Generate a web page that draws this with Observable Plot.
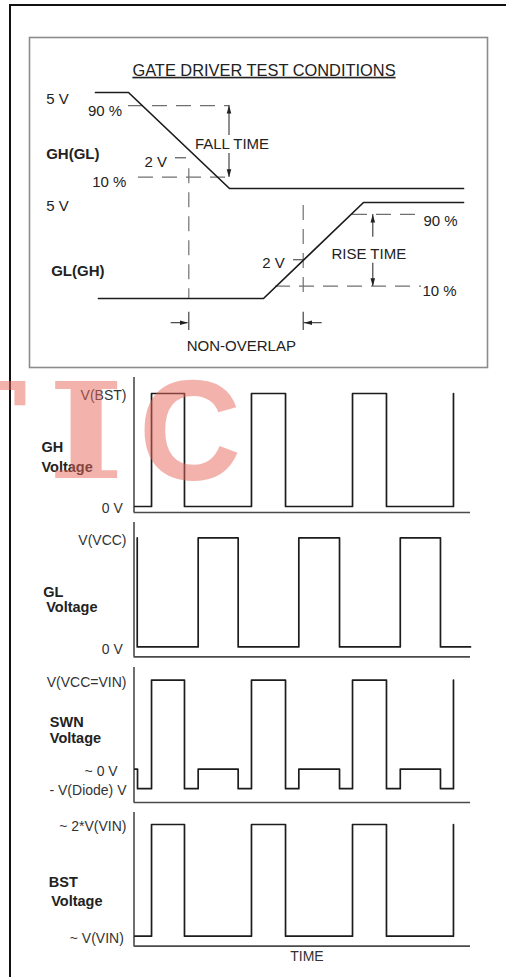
<!DOCTYPE html>
<html>
<head>
<meta charset="utf-8">
<script src="https://cdn.jsdelivr.net/npm/d3@7"></script>
<script src="https://cdn.jsdelivr.net/npm/@observablehq/plot@0.6"></script>
<style>
  html, body { margin: 0; padding: 0; background: #fff; }
  #page { position: relative; width: 506px; height: 977px; overflow: hidden; }
  #frame { position: absolute; left: 9px; top: 4px; width: 497px; height: 973px;
           border-left: 2px solid #111; border-top: 2px solid #111; box-sizing: border-box; }
</style>
</head>
<body>
<div id="page"><div id="frame"></div></div>
<script>
// ================= DATA =================
// --- Upper box: gate driver test conditions (time in arbitrary units, level in volts) ---
const titleText = "GATE DRIVER TEST CONDITIONS";
const GL_LANE = -5.73;                 // vertical lane offset of the GL(GH) trace
const ghTime  = [6.6, 9.9, 20.0, 43.4];
const ghLevel = [5, 5, 0, 0];
const glTime  = [6.9, 23.4, 33.4, 43.4];
const glLevel = [0, 0, 5, 5];

// dashed 90 % / 10 % guides
const guideLevel = [4.32, 0.59, -1.35, -5.09];
const guideFrom  = [9.9, 10.9, 32.3, 24.6];
const guideTo    = [20.0, 20.0, 39.2, 39.2];
// dashed verticals through the 2 V crossings
const crossTime  = [15.93, 27.37];
const crossFrom  = [1.03, -0.885];
const crossTo    = [-5.73, -5.73];
// 2 V tick marks
const tickLevel  = [1.6, -3.71];
const tickFrom   = [14.6, 26.4];
const tickTo     = [15.7, 27.4];
// fall / rise time arrows
const arrowTime  = [19.95, 19.95, 34.33, 34.33];
const arrowFrom  = [2.76, 1.82, -2.54, -3.89];
const arrowTip   = [4.32, 0.59, -1.35, -5.09];
// non-overlap marker
const nonOverlapLevel = -6.99;
const nonOverlapBar   = [-6.44, -7.40];
const nonOverlapFrom  = [14.17, 29.27];
const nonOverlapTip   = [15.85, 27.45];

// labels of the upper box
const startLabelText  = ["5 V", "2 V", "10 %", "5 V", "2 V", "90 %", "10 %"];
const startLabelTime  = [1.67, 11.5, 6.27, 1.67, 23.27, 39.4, 39.3];
const startLabelLevel = [4.67, 1.354, 0.31, -0.94, -3.906, -1.693, -5.365];
const endLabelText    = ["90 %"];
const endLabelTime    = [9.27];
const endLabelLevel   = [4.04];
const midLabelText    = ["FALL TIME", "RISE TIME", "NON-OVERLAP"];
const midLabelTime    = [20.25, 33.93, 21.18];
const midLabelLevel   = [2.29, -3.427, -8.229];
const boldLabelText   = ["GH(GL)", "GL(GH)"];
const boldLabelTime   = [1.67, 2.17];
const boldLabelLevel  = [1.80, -4.323];
const titleTime = 23.45, titleLevel = 6.146;

// --- Lower timing diagrams (time in arbitrary units, normalised level) ---
const timeLabel = "TIME";
const ghVTimes  = [0.08, 1.74, 5.01, 11.66, 15.04, 21.69, 25.06, 31.71];
const ghVLevels = [0, 1, 0, 1, 0, 1, 0, 1];
const glVTimes  = [0.32, 0.32, 6.37, 10.34, 16.36, 20.40, 26.43, 30.42, 33.4];
const glVLevels = [1, 0, 1, 0, 1, 0, 1, 0, 0];
const swnTimes  = [0.08, 0.35, 1.74, 5.01, 6.37, 10.34, 11.66, 15.04, 16.36, 20.40, 21.69, 25.06, 26.43, 30.42, 31.71];
const swnLevels = [0, -0.22, 1, -0.22, 0, -0.22, 1, -0.22, 0, -0.22, 1, -0.22, 0, -0.22, 1];
const bstTimes  = [0.08, 1.74, 5.01, 11.66, 15.04, 21.69, 25.06, 31.71];
const bstLevels = [0, 1, 0, 1, 0, 1, 0, 1];

const ghTickValues  = [1, 0];            const ghTickLabels  = ["V(BST)", "0 V"];
const glTickValues  = [1, 0];            const glTickLabels  = ["V(VCC)", "0 V"];
const swnTickValues = [1, 0, -0.22];     const swnTickLabels = ["V(VCC=VIN)", "~ 0 V", "- V(Diode) V"];
const bstTickValues = [1, 0];            const bstTickLabels = ["~ 2*V(VIN)", "~ V(VIN)"];

const ghName  = ["GH", "Voltage"];
const glName  = ["GL", "Voltage"];
const swnName = ["SWN", "Voltage"];
const bstName = ["BST", "Voltage"];

const watermarkLetters = ["T", "I", "C"];

// ================= DRAWING =================
const FONT = "'Liberation Sans', Arial, Helvetica, sans-serif";
const INK = "#1c1c1c";
const page = document.getElementById("page");

function place(svg, left, top) {
  svg.style.position = "absolute";
  svg.style.left = left + "px";
  svg.style.top = top + "px";
  svg.style.background = "transparent";
  svg.style.overflow = "visible";
  svg.style.maxWidth = "none";
  page.appendChild(svg);
}

const zipPts = (ts, vs, off = 0) => ts.map((t, i) => ({t, v: vs[i] + off}));
const zipSeg = (vs, a, b) => vs.map((v, i) => ({v, from: a[i], to: b[i]}));
const zipLab = (txt, ts, vs) => txt.map((text, i) => ({text, t: ts[i], v: vs[i]}));

// narrow filled arrowhead, tip at origin, pointing up
const head = {draw(ctx) { ctx.moveTo(0, 0); ctx.lineTo(2.3, 8); ctx.lineTo(-2.3, 8); ctx.closePath(); }};

const arrows = arrowTime.map((t, i) => ({t, from: arrowFrom[i], tip: arrowTip[i]}));
const noArrows = nonOverlapFrom.map((from, i) => ({from, tip: nonOverlapTip[i], v: nonOverlapLevel}));
const noBars = crossTime.map(t => ({t, a: nonOverlapBar[0], b: nonOverlapBar[1]}));

const txt = {fontFamily: FONT, fill: "#222", fontSize: 15};

const topPlot = Plot.plot({
  width: 460, height: 332, margin: 1,
  x: {domain: [0, 45.8], axis: null},
  y: {domain: [GL_LANE, 5], insetTop: 55, insetBottom: 69, axis: null},
  marks: [
    Plot.frame({stroke: "#8c8c8c", strokeWidth: 1.6}),
    Plot.ruleY(zipSeg(guideLevel, guideFrom, guideTo), {y: "v", x1: "from", x2: "to", stroke: "#707070", strokeWidth: 1.2, strokeDasharray: "15,9"}),
    Plot.ruleX(crossTime.map((t, i) => ({t, a: crossFrom[i], b: crossTo[i]})), {x: "t", y1: "a", y2: "b", stroke: "#707070", strokeWidth: 1.2, strokeDasharray: "15,9"}),
    Plot.ruleY(zipSeg(tickLevel, tickFrom, tickTo), {y: "v", x1: "from", x2: "to", stroke: "#555", strokeWidth: 1.2}),
    Plot.line(zipPts(ghTime, ghLevel), {x: "t", y: "v", stroke: INK, strokeWidth: 1.7}),
    Plot.line(zipPts(glTime, glLevel, GL_LANE), {x: "t", y: "v", stroke: INK, strokeWidth: 1.7}),
    Plot.ruleX(arrows, {x: "t", y1: "from", y2: "tip", stroke: "#333", strokeWidth: 1.1}),
    Plot.dot(arrows, {x: "t", y: "tip", symbol: head, rotate: d => d.tip > d.from ? 0 : 180, fill: "#222", stroke: "none"}),
    Plot.ruleX(noBars, {x: "t", y1: "a", y2: "b", stroke: "#333", strokeWidth: 1.1}),
    Plot.ruleY(noArrows, {y: "v", x1: "from", x2: "tip", stroke: "#333", strokeWidth: 1.1}),
    Plot.dot(noArrows, {x: "tip", y: "v", symbol: head, rotate: d => d.tip > d.from ? 90 : 270, fill: "#222", stroke: "none"}),
    Plot.text(zipLab(startLabelText, startLabelTime, startLabelLevel), {x: "t", y: "v", text: "text", textAnchor: "start", ...txt}),
    Plot.text(zipLab(endLabelText, endLabelTime, endLabelLevel), {x: "t", y: "v", text: "text", textAnchor: "end", ...txt}),
    Plot.text(zipLab(midLabelText, midLabelTime, midLabelLevel), {x: "t", y: "v", text: "text", textAnchor: "middle", ...txt}),
    Plot.text(zipLab(boldLabelText, boldLabelTime, boldLabelLevel), {x: "t", y: "v", text: "text", textAnchor: "start", ...txt, fontWeight: "bold"}),
    Plot.text([{text: titleText, t: titleTime, v: titleLevel}], {x: "t", y: "v", text: "text", textAnchor: "middle", ...txt, fontSize: 16.4})
  ]
});
topPlot.querySelectorAll("text").forEach(el => {
  if (el.textContent === titleText) el.style.textDecoration = "underline";
});
place(topPlot, 28, 36);

// label nudges (px) for tick labels that sit closer to the axis
const tickNudge = {"0 V": 3.7, "~ 0 V": 8.8, "~ V(VIN)": 2.7};

function timingPanel({times, levels, tickValues, tickLabels, name, nameOffsets, frameTop, frameHeight, insetTop, insetBottom, base, withTime}) {
  const mt = 10, mb = withTime ? 30 : 10;
  const marks = [
    Plot.ruleX([0], {stroke: "#222", strokeWidth: 1.3}),
    Plot.ruleY([base], {dy: insetBottom, stroke: "#4a4a4a", strokeWidth: 1.7}),
    Plot.line(zipPts(times, levels), {x: "t", y: "v", curve: "step-after", stroke: INK, strokeWidth: 1.7})
  ];
  tickValues.forEach((v, i) => {
    const label = tickLabels[i];
    marks.push(Plot.text([{v, label}], {y: "v", text: "label", frameAnchor: "left",
      dx: -(7.5 + (tickNudge[label] || 0)), dy: 2.2, textAnchor: "end",
      fontSize: 14, fontFamily: FONT, fill: "#333"}));
  });
  name.forEach((line, i) => {
    marks.push(Plot.text([line], {text: d => d, frameAnchor: "top-left",
      dx: nameOffsets[i][0], dy: nameOffsets[i][1], textAnchor: "start",
      fontSize: 14.5, fontWeight: "bold", fontFamily: FONT, fill: "#222"}));
  });
  if (withTime) {
    marks.push(Plot.text([{t: 17.17, label: timeLabel}], {x: "t", text: "label", frameAnchor: "bottom",
      dy: 15, fontSize: 14, fontFamily: FONT, fill: "#333"}));
  }
  const svg = Plot.plot({
    width: 506, height: frameHeight + mt + mb,
    marginLeft: 133.5, marginRight: 36, marginTop: mt, marginBottom: mb,
    x: {domain: [0, 33.4], axis: null},
    y: {domain: [base, 1], insetTop, insetBottom, axis: null},
    marks
  });
  place(svg, 0, frameTop - mt);
}

timingPanel({times: ghVTimes, levels: ghVLevels, tickValues: ghTickValues, tickLabels: ghTickLabels,
  name: ghName, nameOffsets: [[-92.5, 64.6], [-92.5, 84.7]],
  frameTop: 376.7, frameHeight: 135, insetTop: 16, insetBottom: 6, base: 0});
timingPanel({times: glVTimes, levels: glVLevels, tickValues: glTickValues, tickLabels: glTickLabels,
  name: glName, nameOffsets: [[-90.8, 64.7], [-87.8, 79.7]],
  frameTop: 522.3, frameHeight: 134.4, insetTop: 15.4, insetBottom: 10, base: 0});
timingPanel({times: swnTimes, levels: swnLevels, tickValues: swnTickValues, tickLabels: swnTickLabels,
  name: swnName, nameOffsets: [[-84.2, 49.3], [-84.2, 65.0]],
  frameTop: 666.7, frameHeight: 135, insetTop: 12.6, insetBottom: 13.8, base: -0.22});
timingPanel({times: bstTimes, levels: bstLevels, tickValues: bstTickValues, tickLabels: bstTickLabels,
  name: bstName, nameOffsets: [[-85.2, 64.4], [-82.8, 83.7]],
  frameTop: 812.3, frameHeight: 133.7, insetTop: 12, insetBottom: 10, base: 0, withTime: true});

// watermark overlay (semi-transparent, on top)
const wm = d3.select(page).append("svg")
  .attr("width", 506).attr("height", 977)
  .style("position", "absolute").style("left", "0px").style("top", "0px")
  .style("pointer-events", "none");
const wmG = wm.append("g").attr("opacity", 0.5).attr("fill", "rgb(232,104,90)");
// serif T and I (horizontally widened), sans C
wmG.append("text").attr("transform", "translate(27,478) scale(1.25,1)")
  .attr("text-anchor", "end").attr("font-family", "'DejaVu Serif', serif")
  .attr("font-weight", "bold").attr("font-size", 132).text(watermarkLetters[0]);
wmG.append("text").attr("transform", "translate(86,478) scale(1.25,1)")
  .attr("text-anchor", "middle").attr("font-family", "'DejaVu Serif', serif")
  .attr("font-weight", "bold").attr("font-size", 132).text(watermarkLetters[1]);
wmG.append("text").attr("transform", "translate(190,480)")
  .attr("text-anchor", "middle").attr("font-family", "'Liberation Sans', Arial, sans-serif")
  .attr("font-weight", "bold").attr("font-size", 142).text(watermarkLetters[2]);
</script>
</body>
</html>
